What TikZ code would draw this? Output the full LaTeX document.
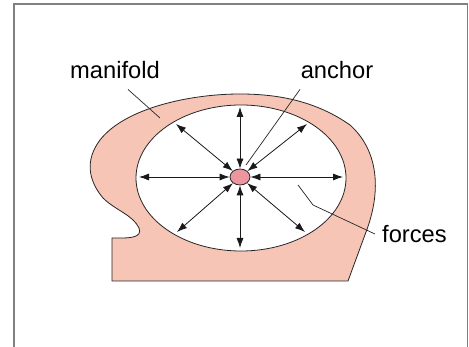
\documentclass[tikz,border=0pt]{standalone}
\usepackage{fontspec}
\setmainfont{Liberation Sans}
\usepackage{xcolor}
\usetikzlibrary{shapes.geometric, arrows.meta, positioning, calc}

\definecolor{manifoldfill}{RGB}{247,197,182}
\definecolor{anchorfill}{RGB}{238,150,160}
\definecolor{framegray}{RGB}{128,128,128}

\begin{document}
\begin{tikzpicture}[
  x=1pt, y=-1pt,
  outline/.style={draw=black!85, line width=0.8pt},
  label/.style={font=\fontsize{23.7}{28}\selectfont, inner sep=0pt, anchor=base},
  leader/.style={draw=black!85, line width=0.7pt},
  force/.style={draw=black!90, line width=0.8pt, {Latex[length=10pt,width=7pt]}-{Latex[length=10pt,width=7pt]}}
]

\useasboundingbox (0,0) rectangle (469,347);
\clip (0,0) rectangle (469,347);

% frame
\draw[framegray, line width=1.6pt] (14,360) -- (14,4) -- (467.5,4) -- (467.5,360);

% manifold body
\path[outline, fill=manifoldfill] (112,281) -- (348,281) -- (366,232)
  .. controls (382,190) and (378,150) .. (350,125)
  .. controls (320,104) and (285,94) .. (240,94)
  .. controls (190,94) and (125,108) .. (100,140)
  .. controls (85,160) and (88,180) .. (103,198)
  .. controls (115,210) and (133,215) .. (139,228)
  .. controls (143,238) and (128,238) .. (120,238)
  -- (112,238) -- cycle;

% cavity
\path[outline, fill=white] (241,178) ellipse [x radius=105pt, y radius=73pt];

% anchor point
\node (anchor) [ellipse, outline, fill=anchorfill, minimum width=20pt, minimum height=16pt, inner sep=0pt] at (240,177) {};

% ends of the forces
\coordinate (fN)  at (240,107);
\coordinate (fS)  at (240,248);
\coordinate (fW)  at (139,177);
\coordinate (fE)  at (343,177);
\coordinate (fNW) at (176,124);
\coordinate (fNE) at (307,124);
\coordinate (fSW) at (177,232);
\coordinate (fSE) at (305,232);

\foreach \f in {fN,fS,fW,fE,fNW,fNE,fSW,fSE}
  \draw[force] (anchor) -- (\f);

% labels
\node (manifold) [label] at (115,79) {manifold};
\node (anchorlbl) [label] at (337,79) {anchor};
\node (forces) [label] at (414.5,242.5) {forces};

\coordinate (mTip) at (160,118);
\coordinate (aTip) at (246,165);
\coordinate (fBend) at (313,205);
\coordinate (fTip) at (298,185);

\draw[leader] ($(manifold.south)+(13,10)$) -- (mTip);
\draw[leader] ($(anchorlbl.south)+(-37,10)$) -- (aTip);
\draw[leader] ($(forces.west)+(-7,0)$) -- (fBend) -- (fTip);

\end{tikzpicture}
\end{document}
